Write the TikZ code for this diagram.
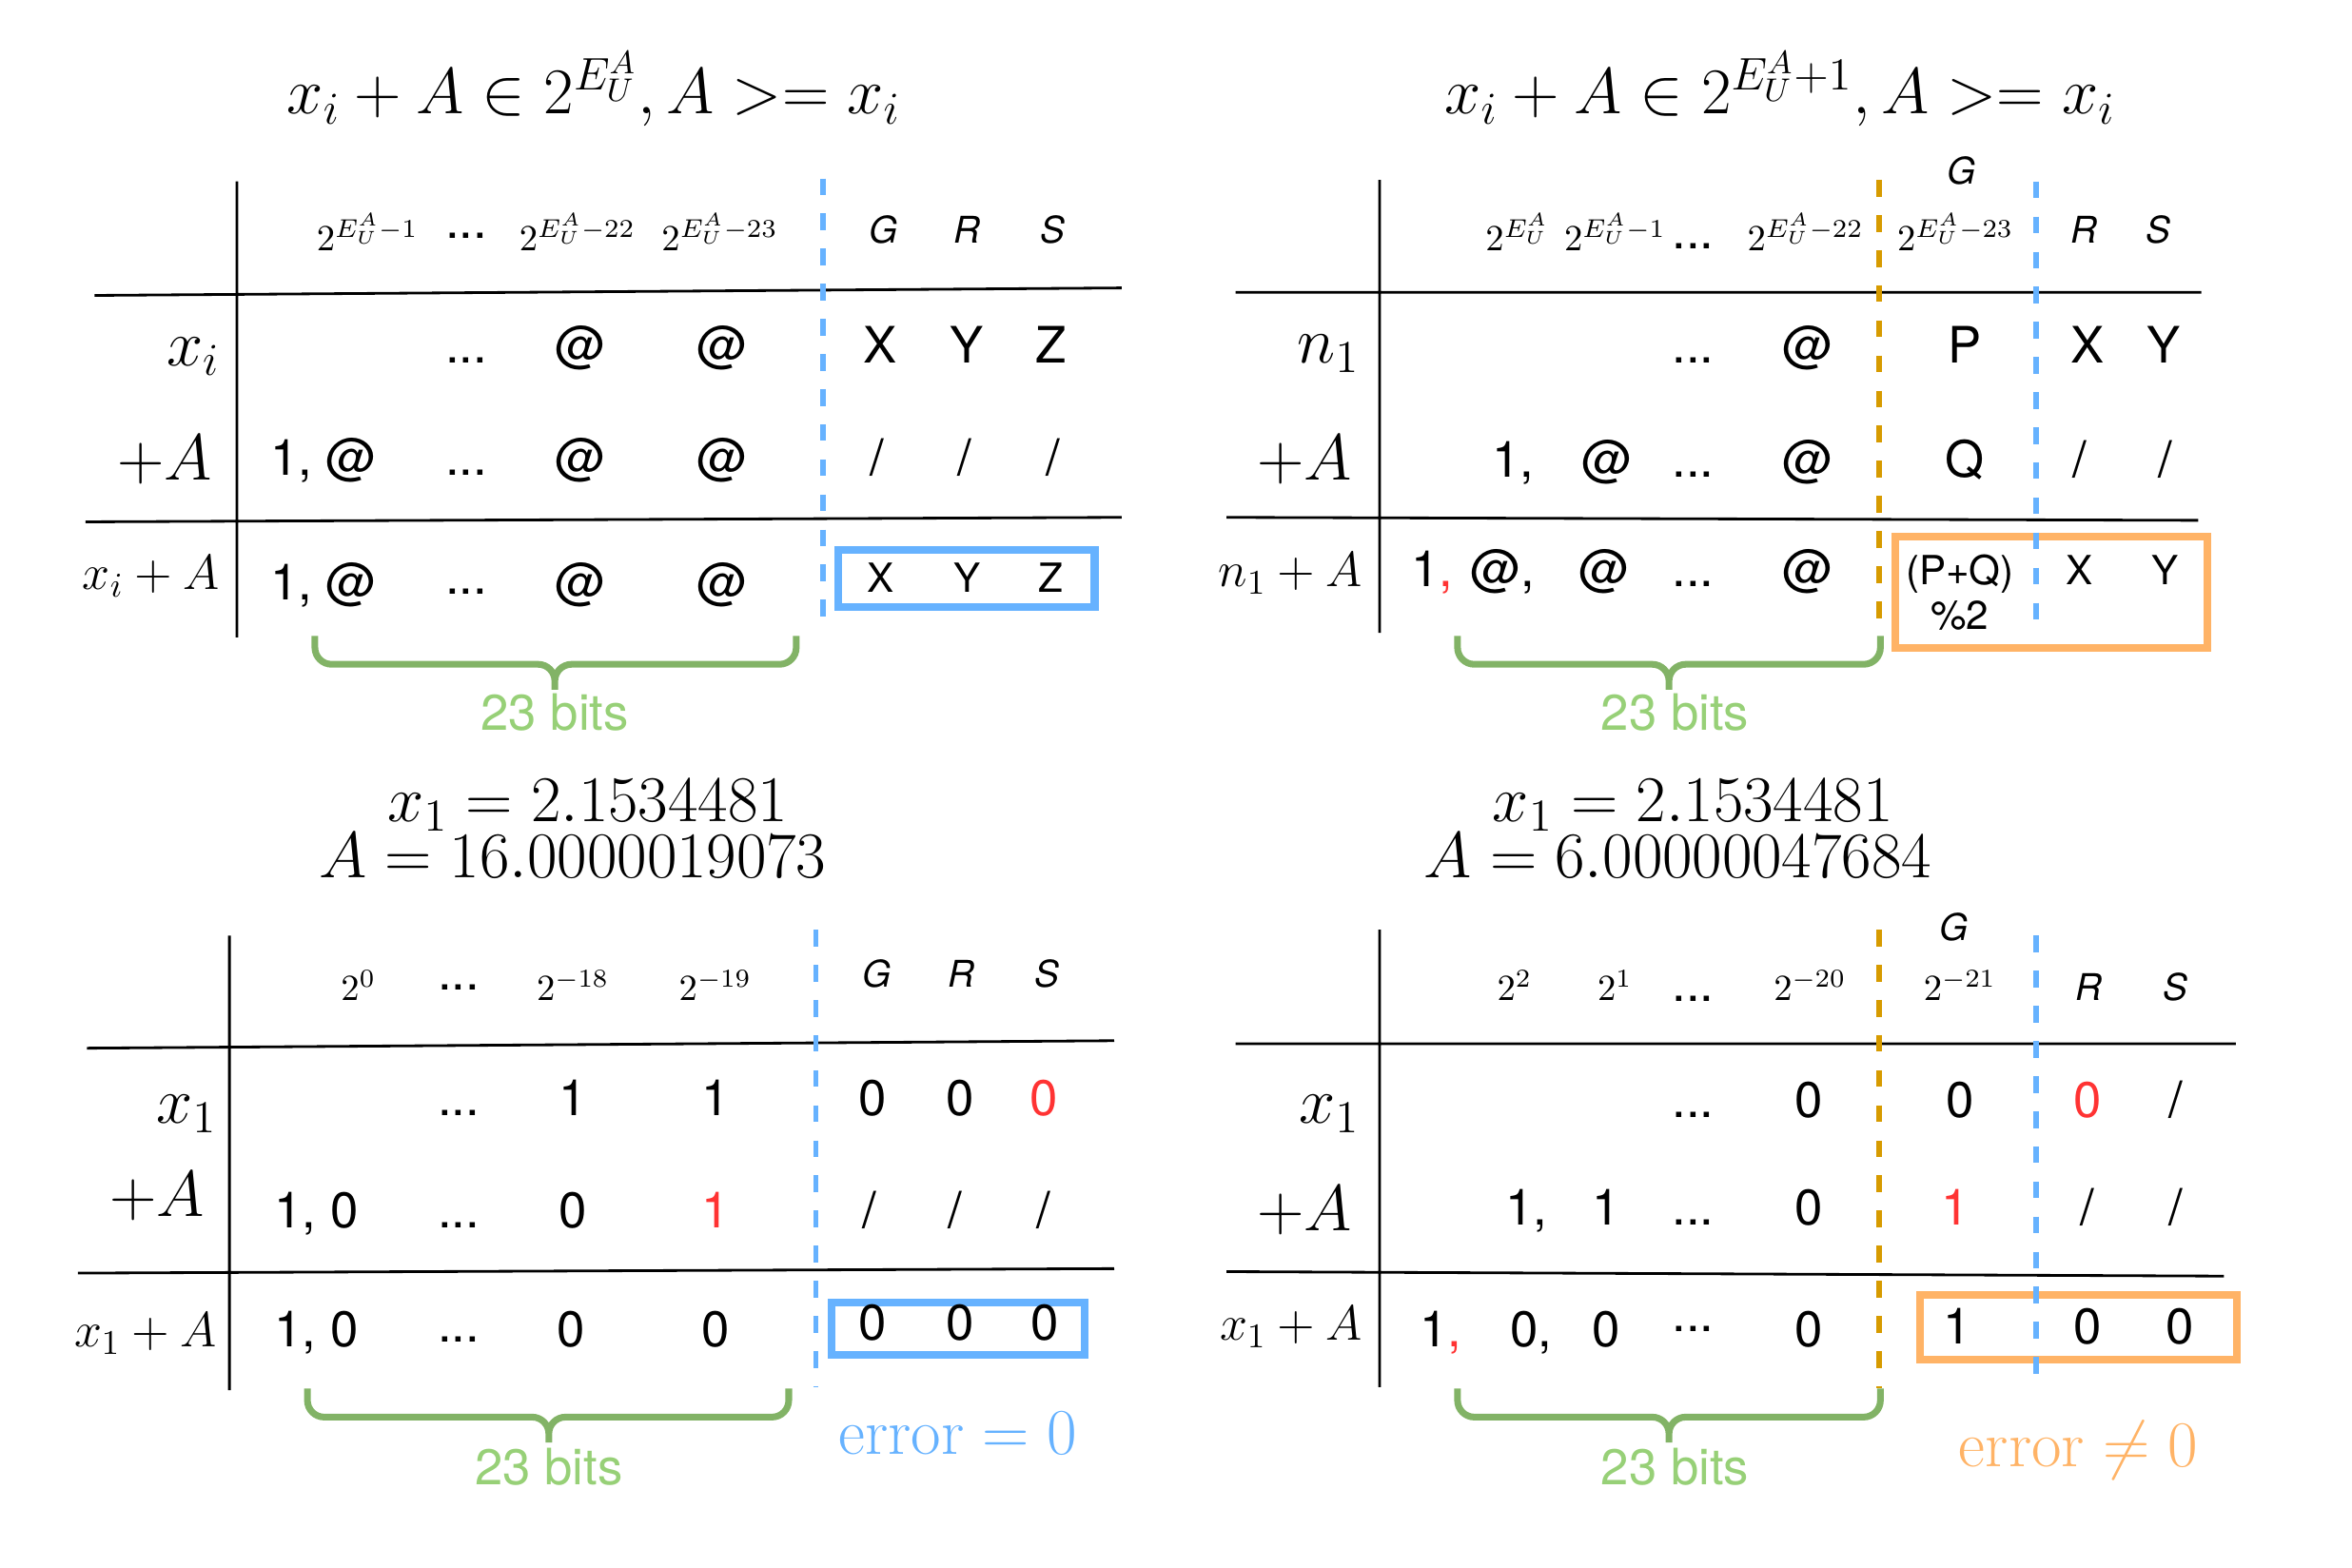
\RequirePackage{fix-cm}
\documentclass[tikz,border=0pt]{standalone}
\usepackage{fontspec}
\setsansfont{TeX Gyre Heros}
\definecolor{myblue}{HTML}{66B2FF}
\definecolor{myorange}{HTML}{FFB366}
\definecolor{darkorange}{HTML}{D79B00}
\definecolor{bracegreen}{HTML}{82B366}
\definecolor{bitsgreen}{HTML}{97D077}
\definecolor{myred}{HTML}{FF3333}
\begin{document}
\begin{tikzpicture}[x=0.01576cm,y=-0.01576cm,
    cell/.style={font=\sffamily\fontsize{15}{18}\selectfont,anchor=base,inner sep=0pt},
    small/.style={font=\sffamily\fontsize{12}{14}\selectfont,anchor=base,inner sep=0pt},
    hdr/.style={font=\fontsize{11}{13}\selectfont,anchor=base,inner sep=0pt},
    grs/.style={font=\sffamily\itshape\fontsize{11}{13}\selectfont,anchor=base,inner sep=0pt},
    lbl/.style={font=\fontsize{19.5}{23}\selectfont,anchor=base east,inner sep=0pt},
    slbl/.style={font=\fontsize{14.8}{18}\selectfont,anchor=base east,inner sep=0pt},
    ttl/.style={font=\fontsize{19.5}{23}\selectfont,anchor=base,inner sep=0pt},
    rule/.style={line width=0.8pt},
    bluedash/.style={draw=myblue,line width=1.6pt,dash pattern=on 5pt off 5.5pt},
    orangedash/.style={draw=darkorange,line width=1.6pt,dash pattern=on 5pt off 5.5pt},
    bluebox/.style={draw=myblue,line width=2.3pt},
    orangebox/.style={draw=myorange,line width=2.3pt},
    curly/.style={draw=bracegreen,line width=2pt,rounded corners=5pt},
    bits/.style={font=\sffamily\fontsize{15}{18}\selectfont,text=bitsgreen,anchor=base,inner sep=0pt}]
  \useasboundingbox (0,0) rectangle (1568.5,1045.1);

  % top left: sum stays in the same exponent
  \node[ttl] (t1) at (396,76) {$x_i + A \in 2^{E_U^A}, A >= x_i$};
  \draw[rule] (158,121) -- (158,425) (63,197) -- (748,192) (57,348) -- (748,345);
  \path[every node/.style=hdr] (0,167)
    +(245,0) node (q1h1) {$2^{E_U^A-1}$}
    +(311,-8) node[cell] (q1h2) {...}
    +(385,0) node (q1h3) {$2^{E_U^A-22}$}
    +(480,0) node (q1h4) {$2^{E_U^A-23}$}
    +(589,-5) node[grs] (q1h5) {G}
    +(645,-5) node[grs] (q1h6) {R}
    +(702,-5) node[grs] (q1h7) {S};
  \node[lbl] (q1l1) at (147,244) {$x_i$};
  \node[lbl] (q1l2) at (142,320) {$+A$};
  \node[slbl] (q1l3) at (147,393) {$x_i + A$};
  \path[every node/.style=cell] (0,242)
    +(311,0) node (q1a1) {...} +(387,0) node (q1a2) {@} +(482,0) node (q1a3) {@}
    +(587,0) node (q1a4) {X} +(645,0) node (q1a5) {Y} +(701,0) node (q1a6) {Z};
  \path[every node/.style=cell] (0,317)
    +(216,0) node (q1b1) {1, @} +(311,0) node (q1b2) {...} +(387,0) node (q1b3) {@}
    +(482,0) node (q1b4) {@} +(585,0) node (q1b5) {/} +(643,0) node (q1b6) {/}
    +(702,0) node (q1b7) {/};
  \path[every node/.style=cell] (0,400)
    +(216,0) node (q1c1) {1, @} +(311,-4) node (q1c2) {...} +(387,0) node (q1c3) {@}
    +(482,0) node (q1c4) {@};
  \draw[bluebox] (559,367) rectangle (730,405);
  \path[every node/.style=small] (0,395)
    +(587,0) node (q1c5) {X} +(645,0) node (q1c6) {Y} +(701,0) node (q1c7) {Z};
  \draw[bluedash] (549,119) -- (549,423);
  \draw[curly] (210,424) -- (210,443) -- (370,443) -- (370,460)
    (531,424) -- (531,443) -- (370,443) -- (370,460);
  \node[bits] (q1bits) at (370,487) {23 bits};

  % top right: sum moves up one exponent
  \node[ttl] (t2) at (1187,76) {$x_i + A \in 2^{E_U^A+1}, A >= x_i$};
  \draw[rule] (920,120) -- (920,422) (824,195) -- (1468,195) (818,345) -- (1466,347);
  \node[grs] (q2g) at (1308,123) {G};
  \path[every node/.style=hdr] (0,167)
    +(1012,0) node (q2h1) {$2^{E_U^A}$}
    +(1077,0) node (q2h2) {$2^{E_U^A-1}$}
    +(1129,-1) node[cell] (q2h3) {...}
    +(1204,0) node (q2h4) {$2^{E_U^A-22}$}
    +(1304,0) node (q2h5) {$2^{E_U^A-23}$}
    +(1390,-5) node[grs] (q2h6) {R}
    +(1439,-5) node[grs] (q2h7) {S};
  \node[lbl] (q2l1) at (907,242) {$n_1$};
  \node[lbl] (q2l2) at (902,320) {$+A$};
  \node[slbl] (q2l3) at (909,391) {$n_1 + A$};
  \path[every node/.style=cell] (0,242)
    +(1129,0) node (q2a1) {...} +(1206,0) node (q2a2) {@} +(1310,0) node (q2a3) {P}
    +(1392,0) node (q2a4) {X} +(1443,0) node (q2a5) {Y};
  \path[every node/.style=cell] (0,318)
    +(1009,0) node (q2b1) {1,} +(1072,0) node (q2b2) {@} +(1129,0) node (q2b3) {...}
    +(1206,0) node (q2b4) {@} +(1310,0) node (q2b5) {Q} +(1387,0) node (q2b6) {/}
    +(1444,0) node (q2b7) {/};
  \path[every node/.style=cell] (0,391)
    +(955,0) node (q2c1) {1\textcolor{myred}{,}} +(1002,0) node (q2c2) {@,}
    +(1070,0) node (q2c3) {@} +(1129,0) node (q2c4) {...} +(1206,0) node (q2c5) {@};
  \draw[orangebox] (1264,358) rectangle (1472,432);
  \path[every node/.style=small] (0,390)
    +(1307,0) node (q2c6) {(P+Q)} +(1307,30) node (q2c7) {\%2}
    +(1387,0) node (q2c8) {X} +(1444,0) node (q2c9) {Y};
  \draw[orangedash] (1253,120) -- (1253,424);
  \draw[bluedash] (1358,121) -- (1358,425);
  \draw[curly] (972,424) -- (972,443) -- (1113,443) -- (1113,460)
    (1254,424) -- (1254,443) -- (1113,443) -- (1113,460);
  \node[bits] (q2bits) at (1117,487) {23 bits};

  % bottom left: error = 0
  \node[ttl] (t3a) at (392,548) {$x_1 = 2.1534481$};
  \node[ttl] (t3b) at (382,585) {$A = 16.0000019073$};
  \draw[rule] (153,624) -- (153,927) (58,699) -- (743,694) (52,849) -- (743,846);
  \path[every node/.style=hdr] (0,667)
    +(239,0) node (q3h1) {$2^0$}
    +(306,-7) node[cell] (q3h2) {...}
    +(382,0) node (q3h3) {$2^{-18}$}
    +(477,0) node (q3h4) {$2^{-19}$}
    +(585,-9) node[grs] (q3h5) {G}
    +(641,-9) node[grs] (q3h6) {R}
    +(698,-9) node[grs] (q3h7) {S};
  \node[lbl] (q3l1) at (145,749) {$x_1$};
  \node[lbl] (q3l2) at (137,811) {$+A$};
  \node[slbl] (q3l3) at (145,898) {$x_1 + A$};
  \path[every node/.style=cell] (0,744)
    +(306,0) node (q3a1) {...} +(382,0) node (q3a2) {1} +(477,0) node (q3a3) {1}
    +(582,0) node (q3a4) {0} +(640,0) node (q3a5) {0}
    +(696,0) node[text=myred] (q3a6) {0};
  \path[every node/.style=cell] (0,819)
    +(211,0) node (q3b1) {1, 0} +(306,0) node (q3b2) {...} +(382,0) node (q3b3) {0}
    +(477,0) node[text=myred] (q3b4) {1} +(580,0) node (q3b5) {/}
    +(637,0) node (q3b6) {/} +(696,0) node (q3b7) {/};
  \path[every node/.style=cell] (0,898)
    +(211,0) node (q3c1) {1, 0} +(306,-3) node (q3c2) {...} +(381,0) node (q3c3) {0}
    +(477,0) node (q3c4) {0};
  \draw[bluebox] (554.5,868.5) rectangle (723.5,903.5);
  \path[every node/.style=cell] (0,894)
    +(582,0) node (q3c5) {0} +(640,0) node (q3c6) {0} +(697,0) node (q3c7) {0};
  \draw[bluedash] (544,620) -- (544,925);
  \draw[curly] (205,926) -- (205,945) -- (366,945) -- (366,962)
    (526,926) -- (526,945) -- (366,945) -- (366,962);
  \node[bits] (q3bits) at (366,990) {23 bits};
  \node[ttl,text=myblue] (q3err) at (639,970) {$\mathrm{error} = 0$};

  % bottom right: error != 0
  \node[ttl] (t4a) at (1129,548) {$x_1 = 2.1534481$};
  \node[ttl] (t4b) at (1119,585) {$A = 6.00000047684$};
  \draw[rule] (920,620) -- (920,925) (824,696) -- (1491,696) (818,848) -- (1483,851);
  \node[grs] (q4g) at (1303,627) {G};
  \path[every node/.style=hdr] (0,667)
    +(1010,0) node (q4h1) {$2^2$}
    +(1077,0) node (q4h2) {$2^1$}
    +(1129,1) node[cell] (q4h3) {...}
    +(1207,0) node (q4h4) {$2^{-20}$}
    +(1307,0) node (q4h5) {$2^{-21}$}
    +(1393,0) node[grs] (q4h6) {R}
    +(1451,0) node[grs] (q4h7) {S};
  \node[lbl] (q4l1) at (907,749) {$x_1$};
  \node[lbl] (q4l2) at (902,821) {$+A$};
  \node[slbl] (q4l3) at (909,894) {$x_1 + A$};
  \path[every node/.style=cell] (0,745)
    +(1129,0) node (q4a1) {...} +(1206,0) node (q4a2) {0} +(1307,0) node (q4a3) {0}
    +(1392,0) node[text=myred] (q4a4) {0} +(1451,0) node (q4a5) {/};
  \path[every node/.style=cell] (0,817)
    +(1018,0) node (q4b1) {1,} +(1071,0) node (q4b2) {1} +(1129,0) node (q4b3) {...}
    +(1206,0) node (q4b4) {0} +(1304,0) node[text=myred] (q4b5) {1}
    +(1392,0) node (q4b6) {/} +(1451,0) node (q4b7) {/};
  \path[every node/.style=cell] (0,898)
    +(961,0) node (q4c1) {1\textcolor{myred}{,}} +(1021,0) node (q4c2) {0,}
    +(1071,0) node (q4c3) {0} +(1129,-10) node (q4c4) {...} +(1206,0) node (q4c5) {0};
  \draw[orangebox] (1280.5,863.5) rectangle (1491.5,906.5);
  \path[every node/.style=cell] (0,896)
    +(1305,0) node (q4c6) {1} +(1392,0) node (q4c7) {0} +(1454,0) node (q4c8) {0};
  \draw[orangedash] (1253,620) -- (1253,926);
  \draw[bluedash] (1358,624) -- (1358,927);
  \draw[curly] (972,926) -- (972,945) -- (1113,945) -- (1113,962)
    (1254,926) -- (1254,945) -- (1113,945) -- (1113,962);
  \node[bits] (q4bits) at (1117,990) {23 bits};
  \node[ttl,text=myorange] (q4err) at (1386,978) {$\mathrm{error} \neq 0$};
\end{tikzpicture}
\end{document}
